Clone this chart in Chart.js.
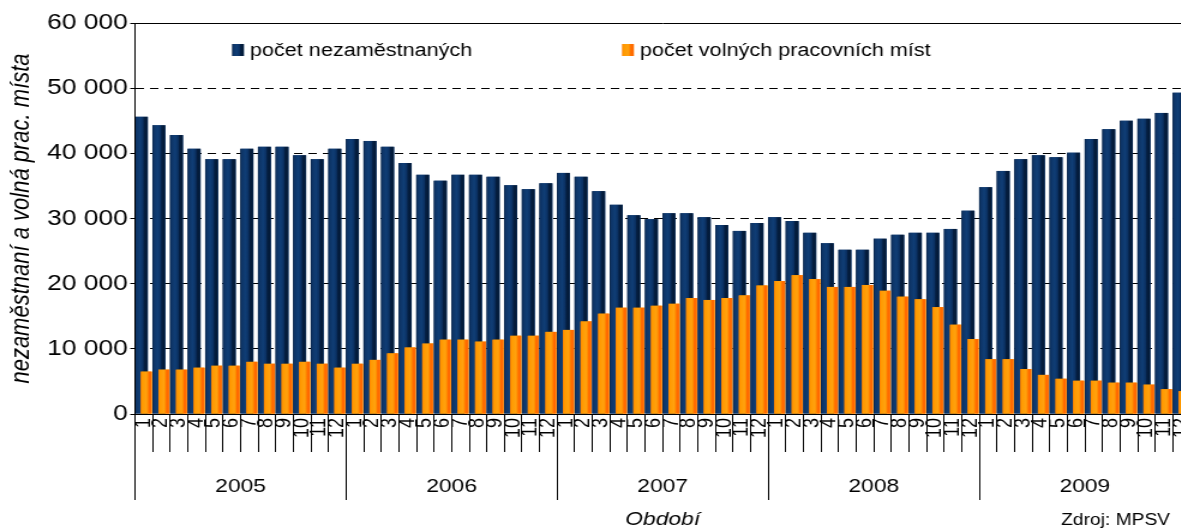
<!DOCTYPE html>
<html>
<head>
<meta charset="utf-8">
<script src="https://cdn.jsdelivr.net/npm/chart.js@4.4.1/dist/chart.umd.min.js"></script>
<style>
  html, body { margin: 0; padding: 0; background: #fff; overflow: hidden; }
  #wrap { width: 1181px; height: 531px; overflow: hidden; }
  #chart { display: block; transform: scaleX(1.2); transform-origin: 0 0; }
</style>
</head>
<body>
<div id="wrap"><canvas id="chart" width="992" height="531"></canvas></div>
<script>
var years = ['2005', '2006', '2007', '2008', '2009'];
var months = ['1', '2', '3', '4', '5', '6', '7', '8', '9', '10', '11', '12'];

// počet nezaměstnaných, 2005/1 .. 2009/12
var unemployed = [
  45600, 44300, 42800, 40700, 39100, 39100, 40700, 41000, 41000, 39700, 39100, 40700,
  42200, 41900, 41000, 38500, 36700, 35800, 36700, 36700, 36400, 35100, 34500, 35400,
  37000, 36400, 34200, 32100, 30500, 29900, 30800, 30800, 30200, 29000, 28100, 29300,
  30200, 29600, 27800, 26200, 25200, 25200, 26900, 27500, 27800, 27800, 28400, 31200,
  34800, 37300, 39100, 39700, 39400, 40100, 42200, 43700, 45000, 45300, 46200, 49300
];
// počet volných pracovních míst
var vacancies = [
  6500, 6800, 6800, 7100, 7400, 7400, 8000, 7700, 7700, 8000, 7700, 7100,
  7700, 8300, 9300, 10200, 10800, 11400, 11400, 11100, 11400, 12000, 12000, 12600,
  12900, 14200, 15400, 16300, 16300, 16600, 16900, 17800, 17500, 17800, 18200, 19700,
  20400, 21300, 20700, 19500, 19500, 19800, 18900, 18000, 17600, 16400, 13700, 11500,
  8400, 8400, 6900, 6000, 5400, 5100, 5100, 4800, 4800, 4500, 3800, 3500
];

var monthLabels = [];
years.forEach(function() { monthLabels = monthLabels.concat(months); });

var SX = 1.2; // the picture is stretched sideways
var FONT = "'Liberation Sans', Arial, sans-serif";

var shades = [
  [[0, '#0a2243'], [0.1, '#0d3466'], [0.4, '#103e76'], [0.62, '#0b3163'], [0.72, '#051f42'], [0.9, '#031a37'], [1, '#0a2c58']],
  [[0, '#ff7b00'], [0.12, '#ff9900'], [0.5, '#ffa20f'], [0.64, '#ff8c00'], [0.74, '#ff6c00'], [0.9, '#ff6800'], [1, '#ff8a1a']]
];

function fillShade(c, left, top, w, h, stops) {
  var g = c.createLinearGradient(left, 0, left + w, 0);
  stops.forEach(function(s) { g.addColorStop(s[0], s[1]); });
  c.fillStyle = g;
  c.fillRect(left, top, w, h);
}

function shadeBars(chart, index) {
  var c = chart.ctx, a = chart.chartArea;
  c.save();
  c.beginPath();
  c.rect(a.left, a.top, a.right - a.left, a.bottom - a.top);
  c.clip();
  chart.getDatasetMeta(index).data.forEach(function(bar) {
    var p = bar.getProps(['x', 'y', 'base', 'width'], true);
    var top = Math.min(p.y, p.base);
    fillShade(c, p.x - p.width / 2, top, p.width, Math.abs(p.base - p.y), shades[index]);
  });
  c.restore();
}

var barShading = {
  id: 'barShading',
  afterDatasetDraw: function(chart, args) {
    if (args.index === 0) shadeBars(chart, 0);
  },
  afterDatasetsDraw: function(chart) {
    // orange bars sit in front of the blue ones
    chart.getDatasetMeta(1).controller.draw();
    shadeBars(chart, 1);
  }
};

var insideLegend = {
  id: 'insideLegend',
  afterDraw: function(chart) {
    var c = chart.ctx, a = chart.chartArea;
    var offsets = [97, 487];
    c.save();
    c.font = '18px ' + FONT;
    c.textBaseline = 'middle';
    chart.data.datasets.forEach(function(ds, i) {
      var x = a.left + offsets[i] / SX;
      fillShade(c, x, 44, 12 / SX, 12, shades[i]);
      c.fillStyle = '#000';
      c.fillText(ds.label, x + 18 / SX, 51);
    });
    c.font = '16px ' + FONT;
    c.textAlign = 'right';
    c.fillStyle = '#000';
    c.fillText('Zdroj: MPSV', 1170 / SX, 521);
    c.restore();
  }
};

function spaced(v) {
  return String(v).replace(/\B(?=(\d{3})+(?!\d))/g, ' ');
}

var ctx = document.getElementById('chart').getContext('2d');
var chart = new Chart(ctx, {
  type: 'bar',
  data: {
    labels: monthLabels,
    datasets: [{
      label: 'počet nezaměstnaných',
      data: unemployed,
      backgroundColor: '#0b3366',
      categoryPercentage: 0.569,
      barPercentage: 2.6
    }, {
      label: 'počet volných pracovních míst',
      data: vacancies,
      backgroundColor: '#ff9900',
      categoryPercentage: 0.569,
      barPercentage: 2.2
    }]
  },
  options: {
    responsive: false,
    animation: false,
    devicePixelRatio: 1,
    layout: { padding: { top: 23, left: 0, right: 0, bottom: 0 } },
    plugins: {
      legend: { display: false },
      tooltip: { enabled: false }
    },
    scales: {
      y: {
        min: 0,
        max: 60000,
        ticks: {
          stepSize: 10000,
          color: '#000',
          padding: 2,
          font: { family: FONT, size: 22 },
          callback: function(v) { return spaced(v); }
        },
        grid: { color: '#000', lineWidth: 1, tickLength: 4 },
        border: {
          color: '#000',
          width: 1,
          z: 1,
          dash: function(c) { return (c.tick && c.tick.value === 60000) ? [] : [7, 5]; }
        },
        title: {
          display: true,
          text: 'nezaměstnaní a volná prac. místa',
          color: '#000',
          font: { family: FONT, size: 22, style: 'italic' },
          padding: { top: 5, bottom: 0 }
        },
        afterFit: function(s) { s.width = 135 / SX; }
      },
      x: {
        ticks: {
          color: '#000',
          font: { family: FONT, size: 18 },
          minRotation: 90,
          maxRotation: 90,
          autoSkip: false,
          padding: -34
        },
        grid: { offset: true, drawOnChartArea: false, color: '#000', tickLength: 38 },
        border: { color: '#000', width: 1, z: 1 },
        afterFit: function(s) { s.height = 38; }
      },
      x2: {
        type: 'category',
        labels: years,
        position: 'bottom',
        weight: 1,
        offset: true,
        ticks: {
          color: '#000',
          font: { family: FONT, size: 19 },
          maxRotation: 0,
          autoSkip: false,
          padding: -25
        },
        grid: { offset: true, drawOnChartArea: false, color: '#000', tickLength: 48 },
        border: { display: false },
        title: {
          display: true,
          text: 'Období',
          color: '#000',
          font: { family: FONT, size: 19, style: 'italic' },
          padding: { top: 0, bottom: 0 }
        },
        afterFit: function(s) { s.height = 531 - 452; }
      }
    }
  },
  plugins: [barShading, insideLegend]
});
</script>
</body>
</html>
